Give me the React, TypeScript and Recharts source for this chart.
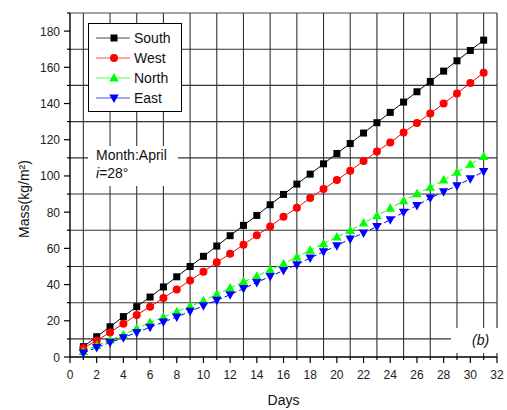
import React from 'react'
import {
  LineChart,
  Line,
  XAxis,
  YAxis,
  Legend,
  ReferenceLine,
} from 'recharts'

const days = [
  1, 2, 3, 4, 5, 6, 7, 8, 9, 10, 11, 12, 13, 14, 15, 16, 17, 18, 19, 20, 21,
  22, 23, 24, 25, 26, 27, 28, 29, 30, 31,
]
const south = [
  5.7, 11.2, 16.7, 22.3, 27.8, 33.1, 38.7, 44.3, 50.0, 55.6, 61.3, 67.0, 72.7,
  78.2, 84.1, 89.8, 95.5, 101.0, 106.7, 112.4, 117.9, 123.7, 129.4, 135.1,
  140.8, 146.5, 152.2, 157.9, 163.6, 169.3, 175.0,
]
const west = [
  5.0, 9.0, 13.6, 18.4, 23.2, 27.8, 32.6, 37.3, 42.3, 47.1, 52.3, 57.0, 62.0,
  67.2, 72.1, 77.5, 82.4, 87.8, 92.8, 97.7, 102.9, 108.2, 113.5, 118.5, 124.0,
  129.2, 134.5, 140.0, 145.6, 151.3, 157.0,
]
const north = [
  3.1, 6.4, 9.4, 12.3, 15.7, 19.1, 22.0, 25.0, 28.0, 31.1, 34.6, 38.1, 41.5,
  44.6, 48.2, 51.5, 55.2, 58.9, 62.6, 66.3, 69.9, 74.0, 78.0, 82.1, 86.3, 90.2,
  93.7, 97.7, 102.0, 106.4, 110.8,
]
const east = [
  2.2, 5.3, 8.0, 10.7, 13.6, 16.4, 19.3, 22.1, 25.2, 28.3, 31.3, 34.4, 37.8,
  41.2, 44.5, 47.8, 51.0, 54.7, 58.1, 61.5, 65.2, 68.5, 72.1, 75.8, 79.9, 83.7,
  87.8, 91.3, 94.6, 98.5, 102.5,
]

const xTicks = [
  0, 1, 2, 3, 4, 5, 6, 7, 8, 9, 10, 11, 12, 13, 14, 15, 16, 17, 18, 19, 20, 21,
  22, 23, 24, 25, 26, 27, 28, 29, 30, 31, 32,
]
const yTicks = [
  0, 10, 20, 30, 40, 50, 60, 70, 80, 90, 100, 110, 120, 130, 140, 150, 160, 170,
  180, 190,
]
const gridDays = [1, 3, 5, 7, 9, 11, 13, 15, 17, 19, 21, 23, 25, 27, 29, 31]
const gridMass = [10, 30, 50, 70, 90, 110, 130, 150, 170]

const seriesInfo = [
  { key: 'South', color: '#000000', shape: 'square', dash: undefined },
  { key: 'West', color: '#ff0000', shape: 'circle', dash: undefined },
  { key: 'North', color: '#00ff00', shape: 'up', dash: '5 3' },
  { key: 'East', color: '#0000ff', shape: 'down', dash: '5 3' },
]

const data = days.map((d, i) => ({
  day: d,
  South: south[i],
  West: west[i],
  North: north[i],
  East: east[i],
}))

const FONT = '"Liberation Sans", Arial, sans-serif'

function Marker({ shape, cx, cy, color }: any) {
  if (shape === 'square')
    return <rect x={cx - 3.5} y={cy - 3.5} width={7} height={7} fill={color} />
  if (shape === 'circle') return <circle cx={cx} cy={cy} r={4} fill={color} />
  if (shape === 'up')
    return (
      <polygon
        points={`${cx},${cy - 5} ${cx - 4.7},${cy + 3.5} ${cx + 4.7},${cy + 3.5}`}
        fill={color}
      />
    )
  return (
    <polygon
      points={`${cx},${cy + 5} ${cx - 4.7},${cy - 3.5} ${cx + 4.7},${cy - 3.5}`}
      fill={color}
    />
  )
}

function XTick({ x, y, payload }: any) {
  const major = payload.value % 2 === 0
  return (
    <g>
      <line x1={x} x2={x} y1={y} y2={y + (major ? 6 : 3)} stroke="#000" strokeWidth={1.2} />
      {major && (
        <text x={x} y={y + 21.5} textAnchor="middle" fontSize={12} fill="#222" fontFamily={FONT}>
          {payload.value}
        </text>
      )}
    </g>
  )
}

function YTick({ x, y, payload }: any) {
  const major = payload.value % 20 === 0 && payload.value <= 180
  return (
    <g>
      <line x1={x - (major ? 6 : 3)} x2={x} y1={y} y2={y} stroke="#000" strokeWidth={1.2} />
      {major && (
        <text x={x - 10} y={y + 4.5} textAnchor="end" fontSize={12} fill="#222" fontFamily={FONT}>
          {payload.value}
        </text>
      )}
    </g>
  )
}

function LegendBox() {
  return (
    <div
      style={{
        width: 94,
        height: 89,
        border: '1px solid #000',
        background: '#fff',
        boxSizing: 'border-box',
        padding: '4px 0 0 0',
        fontFamily: FONT,
        fontSize: 14,
      }}
    >
      {seriesInfo.map((s) => (
        <div key={s.key} style={{ display: 'flex', alignItems: 'center', height: 20 }}>
          <svg width={42} height={14}>
            <line x1={7} x2={41} y1={7} y2={7} stroke={s.color} strokeWidth={1} opacity={0.7} />
            <Marker shape={s.shape} cx={25} cy={7} color={s.color} />
          </svg>
          <span style={{ marginLeft: 3, color: '#111' }}>{s.key}</span>
        </div>
      ))}
    </div>
  )
}

export default function App() {
  return (
    <div style={{ position: 'absolute', left: 0, top: 0, width: 507, height: 410, background: '#fff' }}>
      <LineChart
        width={507}
        height={410}
        data={data}
        margin={{ top: 13, right: 10, left: 0, bottom: 0 }}
      >
        {gridDays.map((d) => (
          <ReferenceLine key={'gx' + d} x={d} stroke="#333" strokeWidth={1.1} />
        ))}
        {gridMass.map((m) => (
          <ReferenceLine key={'gy' + m} y={m} stroke="#333" strokeWidth={1.1} />
        ))}
        <ReferenceLine y={190} stroke="#444" strokeWidth={1.2} />
        <ReferenceLine x={32} stroke="#333" strokeWidth={1.2} />
        <XAxis
          dataKey="day"
          type="number"
          domain={[0, 32]}
          ticks={xTicks}
          interval={0}
          height={53}
          tickSize={0}
          tickMargin={0}
          tickLine={false}
          tick={<XTick />}
          axisLine={{ stroke: '#000', strokeWidth: 1.4 }}
          label={{
            value: 'Days',
            position: 'insideBottom',
            offset: 5,
            fontSize: 14,
            fill: '#111',
            fontFamily: FONT,
          }}
        />
        <YAxis
          type="number"
          domain={[0, 190]}
          ticks={yTicks}
          interval={0}
          width={70}
          tickSize={0}
          tickMargin={0}
          tickLine={false}
          tick={<YTick />}
          axisLine={{ stroke: '#000', strokeWidth: 1.4 }}
          label={(props: any) => {
            const vb = props.viewBox
            const cx = vb.x + 24
            const cy = vb.y + vb.height / 2 + 14
            return (
              <text
                x={cx}
                y={cy}
                transform={`rotate(-90 ${cx} ${cy})`}
                textAnchor="middle"
                dominantBaseline="central"
                fontSize={14}
                fill="#111"
                fontFamily={FONT}
              >
                Mass(kg/m²)
              </text>
            )
          }}
        />
        <Legend
          layout="vertical"
          align="center"
          verticalAlign="middle"
          content={<LegendBox />}
          wrapperStyle={{ position: 'absolute', left: 88, top: 23, width: 94, height: 89 }}
        />
        {seriesInfo.map((s) => (
          <Line
            key={s.key}
            type="linear"
            dataKey={s.key}
            stroke={s.color}
            strokeWidth={1}
            strokeDasharray={s.dash}
            isAnimationActive={false}
            dot={(p: any) => (
              <Marker key={s.key + p.index} shape={s.shape} cx={p.cx} cy={p.cy} color={s.color} />
            )}
            activeDot={false}
          />
        ))}
      </LineChart>
      <div
        style={{
          position: 'absolute',
          left: 88,
          top: 146,
          width: 90,
          height: 40,
          background: '#fff',
          paddingLeft: 8,
          boxSizing: 'border-box',
          fontFamily: FONT,
          fontSize: 14,
          lineHeight: '18px',
          color: '#111',
        }}
      >
        <div>Month:April</div>
        <div>
          <i>i</i>=28°
        </div>
      </div>
      <div
        style={{
          position: 'absolute',
          left: 451,
          top: 328,
          width: 49,
          height: 25,
          background: '#fff',
          fontFamily: FONT,
          fontSize: 14,
          lineHeight: '25px',
          paddingLeft: 21,
          boxSizing: 'border-box',
          fontStyle: 'italic',
          color: '#111',
        }}
      >
        (b)
      </div>
    </div>
  )
}
